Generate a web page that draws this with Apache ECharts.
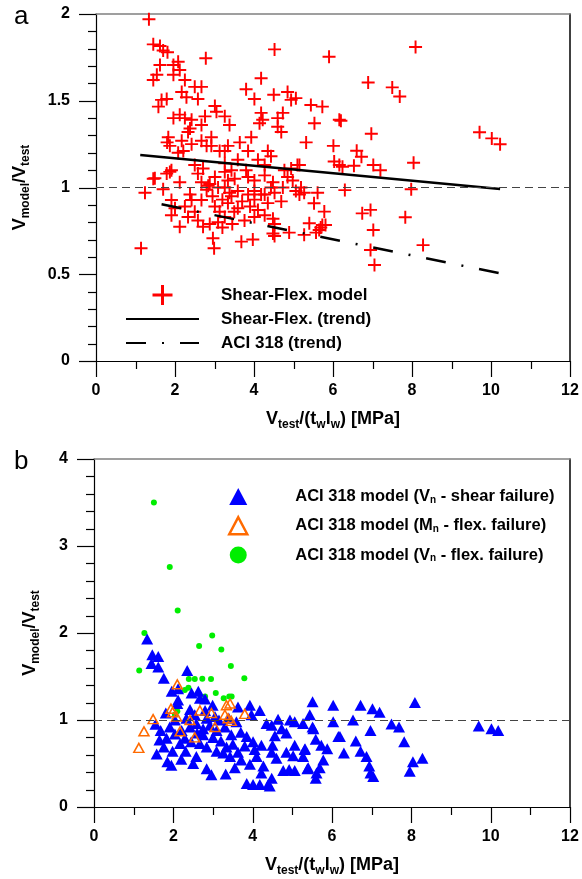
<!DOCTYPE html>
<html>
<head>
<meta charset="utf-8">
<script src="https://cdn.jsdelivr.net/npm/echarts@6/dist/echarts.min.js"></script>
<style>
  html, body { margin: 0; padding: 0; background: #fff; }
  #chart { width: 582px; height: 879px; }
</style>
</head>
<body>
<div id="chart"></div>
<script>
// panel a: shear-flexure model, [Vtest/(tw lw), Vmodel/Vtest]
var shearFlexPts = [
  [1.34,1.97],[1.45,1.825],[1.62,1.815],[1.70,1.79],[1.81,1.78],[2.78,1.745],[4.52,1.796],[5.90,1.754],
  [1.62,1.706],[1.96,1.706],[2.08,1.725],[2.12,1.677],[1.96,1.65],[1.54,1.65],[1.45,1.62],[2.25,1.62],
  [4.18,1.63],[3.80,1.566],[2.50,1.58],[2.67,1.58],[2.17,1.55],[2.29,1.52],[2.58,1.51],[4.01,1.51],
  [4.50,1.535],[4.85,1.55],[4.94,1.505],[5.06,1.515],[5.44,1.475],[5.73,1.466],[1.66,1.505],[1.79,1.51],
  [1.58,1.466],[3.01,1.47],[3.05,1.437],[1.96,1.40],[2.12,1.42],[2.25,1.40],[2.42,1.39],[2.76,1.41],
  [3.26,1.41],[3.38,1.36],[2.67,1.36],[2.38,1.34],[2.33,1.32],[4.18,1.43],[4.22,1.39],[4.14,1.37],
  [4.60,1.40],[4.73,1.43],[4.60,1.35],[4.69,1.32],[5.53,1.37],[6.16,1.39],[3.93,1.29],[3.64,1.26],
  [3.34,1.24],[3.26,1.21],[3.13,1.21],[2.92,1.29],[2.67,1.27],[2.80,1.24],[2.42,1.25],[2.17,1.27],
  [1.83,1.29],[1.87,1.24],[2.21,1.21],[1.80,1.26],[2.92,1.24],[5.32,1.26],[6.01,1.24],
  [6.03,1.15],[6.16,1.13],[4.35,1.21],[4.43,1.18],[4.10,1.16],[3.85,1.21],[5.10,1.13],[4.94,1.11],
  [4.77,1.10],[4.85,1.06],[4.98,1.04],[1.45,1.05],[1.79,1.08],[1.91,1.10],[2.12,1.03],[1.70,0.99],
  [1.24,0.97],[2.50,1.13],[2.58,1.08],[2.71,1.11],[2.67,1.03],[2.84,1.01],[3.01,1.06],[3.26,1.09],
  [3.43,1.10],[3.34,1.04],[3.51,1.05],[3.26,1.00],[3.38,0.97],[3.59,0.98],[3.80,1.10],[3.85,1.06],
  [4.01,1.04],[4.27,1.07],[4.48,1.03],[4.43,1.00],[4.01,0.98],[4.27,0.96],[4.52,0.97],[4.73,1.00],
  [5.06,0.98],[5.15,0.96],[5.61,0.97],[2.38,0.96],
  [8.09,1.81],[6.89,1.605],[7.50,1.577],[7.69,1.524],[6.20,1.385],[6.97,1.31],[6.60,1.212],[6.72,1.177],
  [6.24,1.12],[6.53,1.125],[7.02,1.13],[7.20,1.10],[8.04,1.143],[9.71,1.318],[10.02,1.283],[10.23,1.249],
  [6.30,0.985],[7.98,0.99],[5.27,0.97],
  [5.52,0.909],[5.78,0.861],[5.40,0.794],[5.73,0.784],[5.81,0.784],[5.65,0.755],[5.57,0.74],[5.27,0.727],
  [6.74,0.851],[6.95,0.871],[7.83,0.828],[7.02,0.755],[6.95,0.64],[7.05,0.553],[8.28,0.668],
  [1.14,0.65],[1.49,1.053],[1.87,1.09],[1.91,0.928],[1.91,0.84],[2.12,0.774],[2.00,0.88],[2.25,0.89],
  [2.42,0.928],[2.50,0.86],[2.33,0.83],[2.58,0.81],[2.71,0.774],[2.88,0.79],[2.96,0.707],[2.99,0.65],
  [2.67,0.928],[2.80,0.987],[2.88,1.02],[3.09,1.00],[3.01,0.89],[3.13,0.86],[3.09,0.80],[3.26,0.83],
  [3.34,0.91],[3.43,0.95],[3.59,0.88],[3.68,0.688],[3.97,0.70],[3.76,0.81],[4.01,0.83],[4.10,0.87],
  [4.01,0.93],[3.85,0.96],[4.18,0.96],[4.35,0.91],[4.27,0.84],[4.48,0.82],[4.52,0.79],[4.48,0.735],
  [4.52,0.72],[4.89,0.74],[4.69,0.92],[5.19,1.00],[5.69,0.77],
  [2.08,1.20],[3.26,1.14],[3.59,1.16],[4.27,1.13],[5.15,1.13],
  [3.20,0.93],[3.50,0.86],[2.95,0.95],[3.70,0.92],[3.90,0.89],[3.20,0.77],[3.45,0.79]
];
var shearFlexTrend = [[1.12,1.187],[10.23,0.991]];
var aciTrend = [[1.66,0.903],[10.23,0.505]];

// panel b: ACI 318 model
var aciShearPts = [
  [1.34,1.93],[1.47,1.75],[1.62,1.73],[1.45,1.65],[1.62,1.61],[1.76,1.48],[2.35,1.57],[1.96,1.33],
  [2.12,1.36],[2.12,1.23],[2.10,1.19],[1.81,1.08],[2.46,1.31],[2.63,1.33],[2.67,1.25],[2.80,1.24],
  [2.42,1.12],[2.80,1.11],[2.99,1.17],[3.05,1.04],[2.84,1.02],[2.54,1.06],[2.33,1.02],[2.04,1.00],
  [1.68,0.88],[1.91,0.92],[2.04,0.84],[1.65,0.77],[1.83,0.79],[1.76,0.69],[1.58,0.61],[1.85,0.52],
  [1.98,0.64],[2.17,0.73],[2.29,0.79],[2.31,0.64],[2.21,0.88],[2.42,0.92],[2.58,0.96],[2.75,0.90],
  [2.92,0.94],[3.09,0.88],[3.30,0.92],[3.46,0.83],[3.63,1.15],[3.93,1.17],[3.97,1.06],[4.18,1.11],
  [3.59,0.98],[3.85,0.81],[4.01,0.75],[4.22,0.71],[2.75,0.83],[2.67,0.73],[2.84,0.69],[2.58,0.58],
  [2.50,0.50],[2.84,0.44],[2.96,0.37],[3.32,0.38],[3.09,0.64],[3.26,0.62],[3.43,0.58],[3.34,0.69],
  [3.63,0.63],[3.71,0.54],[3.93,0.49],[4.10,0.58],[4.27,0.47],[4.22,0.39],[4.48,0.63],[4.50,0.71],
  [4.56,0.82],[4.48,0.94],[4.35,0.96],[4.64,1.01],[4.73,0.90],[4.85,0.85],[4.60,0.56],[4.85,0.63],
  [5.02,0.59],[5.06,0.71],[5.32,0.67],[5.27,0.58],[5.40,0.45],[4.92,0.43],[5.06,0.42],[4.77,0.42],
  [4.48,0.33],[4.39,0.26],[4.18,0.26],[4.01,0.26],[3.85,0.27],[4.43,0.24],[4.94,1.00],[5.06,0.98],
  [5.27,0.96],[5.44,1.06],[5.51,1.21],[5.53,0.90],[5.59,0.78],[5.73,0.71],[5.88,0.67],[5.78,0.54],
  [5.69,0.45],[5.61,0.39],[6.03,1.17],[6.03,0.98],[6.16,0.81],
  [6.72,1.17],[7.02,1.13],[7.20,1.09],[8.09,1.20],[5.51,0.92],[6.53,1.00],[7.50,0.955],[7.69,0.92],
  [6.97,0.88],[6.20,0.81],[6.60,0.76],[7.82,0.75],[5.31,0.66],[6.30,0.62],[6.72,0.64],[6.87,0.58],
  [6.94,0.47],[6.97,0.39],[7.04,0.35],[5.38,0.44],[5.59,0.33],[8.04,0.52],[8.28,0.56],[7.96,0.41],
  [9.70,0.93],[10.02,0.90],[10.19,0.88],
  [3.00,0.80],[3.20,0.76],[3.50,0.72],[3.70,0.86],[3.15,1.00],[3.40,1.02],[2.60,0.85],[2.45,0.75],
  [3.80,0.70],[4.05,0.66],[3.55,0.45],[2.20,0.55],[1.95,0.48],[1.55,0.95]
];
var aciFlexMPts = [
  [2.10,1.41],[1.94,1.13],[1.98,1.09],[1.49,1.01],[1.26,0.87],[1.13,0.68],[2.08,1.04],[2.17,0.87],
  [2.42,1.00],[2.67,1.11],[2.96,1.08],[3.05,0.92],[2.54,0.80],[3.34,1.17],[3.43,1.19],[3.30,1.06],
  [3.38,1.02],[3.46,0.99],[3.80,1.07]
];
var aciFlexVPts = [
  [1.51,3.50],[1.91,2.76],[2.11,2.26],[1.27,2.00],[2.98,1.97],[1.14,1.57],[2.65,1.85],[3.21,1.81],
  [3.45,1.62],[3.79,1.48],[2.39,1.47],[2.54,1.47],[2.73,1.475],[2.95,1.47],[2.38,1.37],[2.29,1.345],
  [3.07,1.31],[2.80,1.27],[3.27,1.25],[3.41,1.27],[3.47,1.27],[2.10,1.10],[2.04,1.06]
];

var FONT = 'Liberation Sans, Arial, Helvetica, sans-serif';
var PLUS = 'path://M8.5,0H11.5V8.5H20V11.5H11.5V20H8.5V11.5H0V8.5H8.5Z';
var legendText = {
  'Shear-Flex. model': 'Shear-Flex. model',
  'Shear-Flex. (trend)': 'Shear-Flex. (trend)',
  'ACI 318 (trend)': 'ACI 318 (trend)',
  'ACI 318 model (Vn - shear failure)': 'ACI 318 model (V{sub|n} - shear failure)',
  'ACI 318 model (Mn - flex. failure)': 'ACI 318 model (M{sub|n} - flex. failure)',
  'ACI 318 model (Vn - flex. failure)': 'ACI 318 model (V{sub|n} - flex. failure)'
};

var chart = echarts.init(document.getElementById('chart'));

function nameStyle() {
  return {
    fontFamily: FONT, fontSize: 18, fontWeight: 'bold', color: '#000', lineHeight: 24,
    rich: { sub: { fontFamily: FONT, fontSize: 12, fontWeight: 'bold', color: '#000', lineHeight: 12, verticalAlign: 'bottom' } }
  };
}
function xAxisMain(idx) {
  return {
    type: 'value', gridIndex: idx, min: 0, max: 12, interval: 2,
    name: 'V{sub|test}/(t{sub|w}l{sub|w}) [MPa]', nameLocation: 'middle', nameGap: 46,
    nameTextStyle: nameStyle(),
    axisLine: { show: true, onZero: false, lineStyle: { color: '#000', width: 1.2 } },
    axisTick: { show: false },
    axisLabel: { margin: 22, fontFamily: FONT, fontSize: 16, fontWeight: 'bold', color: '#000' },
    splitLine: { show: false }
  };
}
function xAxisTop(idx) {
  return {
    type: 'value', gridIndex: idx, min: 0, max: 12, position: 'top',
    axisLine: { show: true, onZero: false, lineStyle: { color: '#808080', width: 1.5 } },
    axisTick: { show: false }, axisLabel: { show: false }, splitLine: { show: false }
  };
}
function yAxisMain(idx, max, interval, gap) {
  return {
    type: 'value', gridIndex: idx, min: 0, max: max, interval: interval,
    name: 'V{sub|model}/V{sub|test}', nameLocation: 'middle', nameRotate: 90, nameGap: gap,
    nameTextStyle: nameStyle(),
    axisLine: { show: true, onZero: false, lineStyle: { color: '#000', width: 1.2 } },
    axisTick: { show: false },
    axisLabel: { margin: 26, fontFamily: FONT, fontSize: 16, fontWeight: 'bold', color: '#000' },
    splitLine: { show: false }
  };
}
function yAxisRight(idx, max) {
  return {
    type: 'value', gridIndex: idx, min: 0, max: max, position: 'right',
    axisLine: { show: true, onZero: false, lineStyle: { color: '#000', width: 1.5 } },
    axisTick: { show: false }, axisLabel: { show: false }, splitLine: { show: false }
  };
}
var refLine = {
  silent: true, symbol: 'none', label: { show: false },
  lineStyle: { type: [8, 5], color: '#444', width: 1 },
  data: [{ yAxis: 1 }]
};
var panelLabels = [
  { type: 'text', left: 14, top: 4, style: { text: 'a', fontFamily: FONT, fontSize: 26, fill: '#000' } },
  { type: 'text', left: 14, top: 449, style: { text: 'b', fontFamily: FONT, fontSize: 26, fill: '#000' } }
];

var option = {
  animation: false,
  grid: [
    { left: 94, top: 14, width: 476, height: 347 },
    { left: 94, top: 459, width: 476, height: 348 }
  ],
  xAxis: [xAxisMain(0), xAxisTop(0), xAxisMain(1), xAxisTop(1)],
  yAxis: [yAxisMain(0, 2, 0.5, 64), yAxisRight(0, 2), yAxisMain(1, 4, 1, 52), yAxisRight(1, 4)],
  legend: [
    {
      orient: 'vertical', left: 125, top: 285, padding: 0, itemWidth: 73, itemHeight: 20, itemGap: 4,
      selectedMode: false, data: [
        { name: 'Shear-Flex. model', icon: PLUS },
        { name: 'Shear-Flex. (trend)', itemStyle: { opacity: 0 } },
        { name: 'ACI 318 (trend)', itemStyle: { opacity: 0 } }
      ],
      formatter: function (n) { return legendText[n]; },
      textStyle: { fontFamily: FONT, fontSize: 17, fontWeight: 'bold', color: '#000', lineHeight: 20, padding: [0, 0, 0, 17] }
    },
    {
      orient: 'vertical', left: 228, top: 488, padding: 0, itemWidth: 18, itemHeight: 17, itemGap: 11,
      selectedMode: false, data: [
        { name: 'ACI 318 model (Vn - shear failure)' },
        { name: 'ACI 318 model (Mn - flex. failure)', itemStyle: { borderWidth: 2.5 } },
        { name: 'ACI 318 model (Vn - flex. failure)' }
      ],
      formatter: function (n) { return legendText[n]; },
      textStyle: {
        fontFamily: FONT, fontSize: 16.5, fontWeight: 'bold', color: '#000', lineHeight: 17, padding: [0, 0, 0, 43],
        rich: { sub: { fontFamily: FONT, fontSize: 10, fontWeight: 'bold', color: '#000', lineHeight: 8, verticalAlign: 'bottom' } }
      }
    }
  ],
  graphic: panelLabels,
  series: [
    {
      name: 'Shear-Flex. model', type: 'scatter', xAxisIndex: 0, yAxisIndex: 0,
      data: shearFlexPts, symbol: PLUS, symbolSize: 13,
      itemStyle: { color: '#ff0000', opacity: 1 },
      markLine: refLine
    },
    {
      name: 'Shear-Flex. (trend)', type: 'line', xAxisIndex: 0, yAxisIndex: 0,
      data: shearFlexTrend, symbol: 'none',
      lineStyle: { color: '#000', width: 2.5 }, itemStyle: { color: '#000' }
    },
    {
      name: 'ACI 318 (trend)', type: 'line', xAxisIndex: 0, yAxisIndex: 0,
      data: aciTrend, symbol: 'none',
      lineStyle: { color: '#000', width: 2.5, type: [20, 16, 2, 16] }, itemStyle: { color: '#000' }
    },
    {
      name: 'ACI 318 model (Vn - flex. failure)', type: 'scatter', xAxisIndex: 2, yAxisIndex: 2,
      data: aciFlexVPts, symbol: 'circle', symbolSize: 6,
      itemStyle: { color: '#00ee00', opacity: 1 },
      markLine: refLine
    },
    {
      name: 'ACI 318 model (Vn - shear failure)', type: 'scatter', xAxisIndex: 2, yAxisIndex: 2,
      data: aciShearPts, symbol: 'triangle', symbolSize: [12, 11],
      itemStyle: { color: '#0000ff', opacity: 1 }
    },
    {
      name: 'ACI 318 model (Mn - flex. failure)', type: 'scatter', xAxisIndex: 2, yAxisIndex: 2,
      data: aciFlexMPts, symbol: 'triangle', symbolSize: [10, 9],
      itemStyle: { color: 'rgba(255,255,255,0)', borderColor: '#ff6a00', borderWidth: 1.5, opacity: 1 }
    }
  ]
};
chart.setOption(option);

// outward axis ticks, placed through the axes' own scales
function tickLine(x1, y1, x2, y2) {
  return { type: 'line', silent: true, z: 10,
    shape: { x1: x1, y1: y1, x2: x2, y2: y2 },
    style: { stroke: '#000', lineWidth: 1.2 } };
}
function addTicks(els, xi, yi, yMax, yStep, yMajorEvery) {
  var y0 = chart.convertToPixel({ yAxisIndex: yi }, 0);
  var x0 = chart.convertToPixel({ xAxisIndex: xi }, 0);
  for (var v = 0; v <= 12; v++) {
    var px = Math.round(chart.convertToPixel({ xAxisIndex: xi }, v)) + 0.5;
    els.push(tickLine(px, y0, px, y0 + (v % 2 === 0 ? 16 : 8)));
  }
  var n = Math.round(yMax / yStep);
  for (var k = 0; k <= n; k++) {
    var py = Math.round(chart.convertToPixel({ yAxisIndex: yi }, k * yStep)) + 0.5;
    els.push(tickLine(x0, py, x0 - (k % yMajorEvery === 0 ? 17 : 8), py));
  }
}
var tickEls = panelLabels.slice();
addTicks(tickEls, 0, 0, 2, 0.1, 5);
addTicks(tickEls, 2, 2, 4, 0.2, 5);
chart.setOption({ graphic: tickEls }, { replaceMerge: ['graphic'] });
</script>
</body>
</html>
